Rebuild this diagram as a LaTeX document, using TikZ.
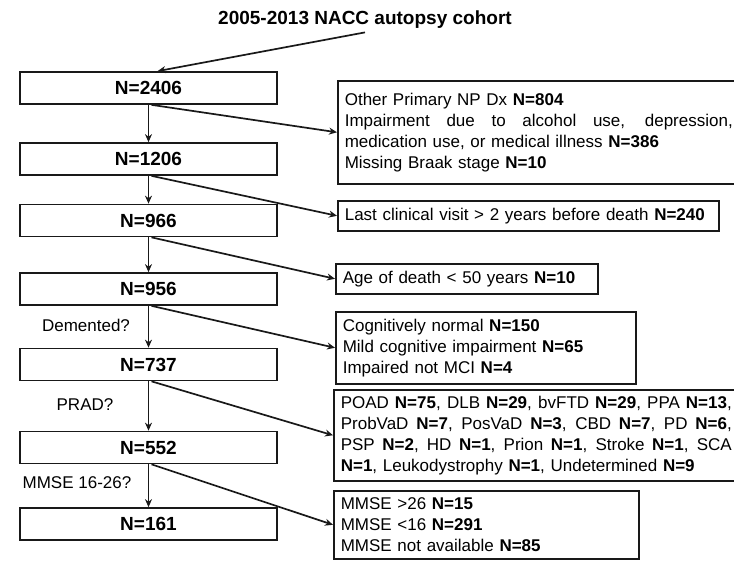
\documentclass[tikz,border=0pt]{standalone}
\usepackage{fontspec}
\setmainfont{Liberation Sans}
\usetikzlibrary{arrows.meta}
\newcommand\spreadline[2]{\makebox[#1][s]{\spaceskip=0pt\xspaceskip=0pt\relax #2}}
\begin{document}
\begin{tikzpicture}[x=1pt,y=-1pt,
  lbox/.style={draw=black!90, line width=1.7pt, minimum width=257pt, minimum height=32pt, inner sep=0pt, font=\fontsize{19}{22}\selectfont\bfseries},
  rbox/.style={draw=black!90, line width=1.6pt, anchor=north west, inner xsep=7pt, inner ysep=0pt, align=left, font=\fontsize{17}{21}\selectfont},
  arr/.style={draw=black!90, line width=1.7pt, -{Stealth[length=8pt,width=7pt]}},
  lab/.style={font=\fontsize{17}{20}\selectfont}]
\useasboundingbox (0,0) rectangle (734,561);

% title
\node[font=\fontsize{19}{22}\selectfont\bfseries] (title) at (365,20) {2005-2013 NACC autopsy cohort};

% left column
\node[lbox] (n1) at (148.5,88) {N=2406};
\node[lbox] (n2) at (148.5,159) {N=1206};
\node[lbox] (n3) at (148.5,220.5) {N=966};
\node[lbox] (n4) at (148.5,289) {N=956};
\node[lbox] (n5) at (148.5,364.5) {N=737};
\node[lbox] (n6) at (148.5,447.5) {N=552};
\node[lbox] (n7) at (148.5,524) {N=161};

% questions
\node[lab] (q1) at (86,325) {Demented?};
\node[lab] (q2) at (85,405) {PRAD?};
\node[lab] (q3) at (77,483) {MMSE 16-26?};

% right column
\node[rbox, text width=398pt, minimum height=103pt] (r1) at (337,80)
  {Other Primary NP Dx \textbf{N=804}\\
   \spreadline{388pt}{Impairment due to alcohol use, depression,}\\
   medication use, or medical illness \textbf{N=386}\\
   Missing Braak stage \textbf{N=10}};
\node[rbox, text width=367pt, minimum height=30pt] (r2) at (337,200)
  {Last clinical visit > 2 years before death \textbf{N=240}};
\node[rbox, text width=248pt, minimum height=30pt] (r3) at (335,263)
  {Age of death < 50 years \textbf{N=10}};
\node[rbox, text width=286pt, minimum height=72pt] (r4) at (335,311)
  {Cognitively normal \textbf{N=150}\\
   Mild cognitive impairment \textbf{N=65}\\
   Impaired not MCI \textbf{N=4}};
\node[rbox, text width=400pt, minimum height=91pt] (r5) at (333,389)
  {\spreadline{391pt}{POAD \textbf{N=75}, DLB \textbf{N=29}, bvFTD \textbf{N=29}, PPA \textbf{N=13},}\\
   \spreadline{391pt}{ProbVaD \textbf{N=7}, PosVaD \textbf{N=3}, CBD \textbf{N=7}, PD \textbf{N=6},}\\
   \spreadline{391pt}{PSP \textbf{N=2}, HD \textbf{N=1}, Prion \textbf{N=1}, Stroke \textbf{N=1}, SCA}\\
   \textbf{N=1}, Leukodystrophy \textbf{N=1}, Undetermined \textbf{N=9}};
\node[rbox, text width=291pt, minimum height=68pt] (r6) at (333,490)
  {MMSE >26 \textbf{N=15}\\
   MMSE <16 \textbf{N=291}\\
   MMSE not available \textbf{N=85}};

% arrows
\draw[arr] (title.south) -- ([xshift=9pt]n1.north);
\draw[arr] (n1.south) -- (n2.north);
\draw[arr] (n2.south) -- (n3.north);
\draw[arr] (n3.south) -- (n4.north);
\draw[arr] (n4.south) -- (n5.north);
\draw[arr] (n5.south) -- (n6.north);
\draw[arr] (n6.south) -- (n7.north);
\draw[arr] ([xshift=3pt]n1.south) -- (r1.west);
\draw[arr] ([xshift=3pt]n2.south) -- (r2.west);
\draw[arr] ([xshift=3pt]n3.south) -- (r3.west);
\draw[arr] ([xshift=3pt]n4.south) -- (r4.west);
\draw[arr] ([xshift=3pt]n5.south) -- (r5.west);
\draw[arr] ([xshift=3pt]n6.south) -- (r6.west);
\end{tikzpicture}
\end{document}
